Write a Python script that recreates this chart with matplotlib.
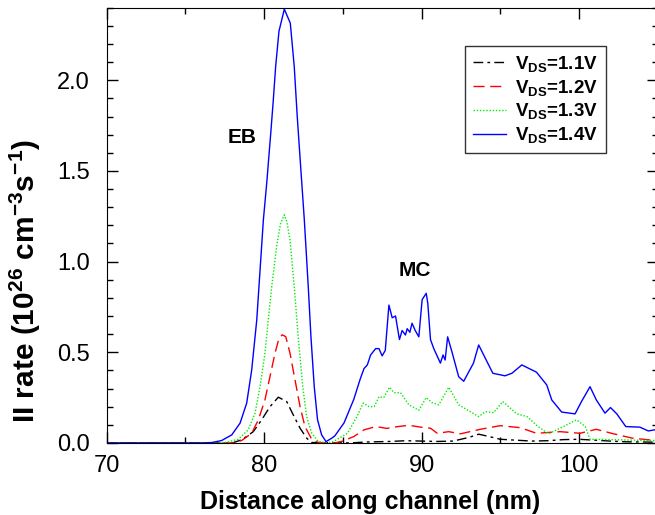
import matplotlib.pyplot as plt
from matplotlib.ticker import MultipleLocator

plt.rcParams["font.family"] = ["Liberation Sans", "DejaVu Sans"]
plt.rcParams["mathtext.fontset"] = "custom"
plt.rcParams["mathtext.rm"] = "Liberation Sans"
plt.rcParams["mathtext.bf"] = "Liberation Sans:bold"
plt.rcParams["mathtext.default"] = "bf"

# II generation rate along the channel for four drain biases
x_11 = [70, 78.0, 78.58, 79.32, 79.85, 80.38, 80.91, 81.44, 81.86, 82.29, 82.71,
        83.03, 85.5, 86.5, 88.0, 89.0, 90.0, 91.0, 92.0, 93.0, 93.63, 94.3, 95.0,
        96.0, 97.0, 98.0, 99.0, 100.0, 101.0, 102.0, 103.0, 105.0]
y_11 = [0, 0, 0.017, 0.062, 0.127, 0.2, 0.252, 0.228, 0.154, 0.081, 0.026,
        0.002, 0.0, 0.005, 0.008, 0.012, 0.01, 0.008, 0.01, 0.03, 0.048, 0.035, 0.02,
        0.015, 0.01, 0.012, 0.018, 0.02, 0.015, 0.01, 0.006, 0.004]

x_12 = [70, 78.0, 78.58, 79.22, 79.64, 80.06, 80.38, 80.7, 80.95, 81.16, 81.38,
        81.65, 81.97, 82.29, 82.6, 83.03, 83.45, 84.5, 85.0, 85.7, 86.35, 87.1,
        87.8, 88.5, 89.2, 89.94, 90.57, 91.0, 91.73, 92.47, 93.73, 95.0, 96.27,
        97.3, 98.8, 100.06, 101.1, 102.2, 103.4, 105.0]
y_12 = [0, 0, 0.013, 0.053, 0.127, 0.237, 0.366, 0.495, 0.577, 0.596, 0.586,
        0.495, 0.347, 0.2, 0.09, 0.02, 0.002, 0.0, 0.01, 0.035, 0.072, 0.09,
        0.08, 0.09, 0.097, 0.087, 0.081, 0.053, 0.062, 0.05, 0.075, 0.095, 0.084,
        0.053, 0.062, 0.053, 0.075, 0.05, 0.026, 0.012]

x_13 = [70, 77.0, 77.52, 78.37, 79.0, 79.43, 79.75, 80.06, 80.27, 80.49, 80.8,
        81.05, 81.29, 81.45, 81.65, 81.92, 82.17, 82.46, 82.71, 83.03, 83.45, 84.0,
        84.4, 85.3, 85.9, 86.3, 86.66, 87.0, 87.3, 87.6, 87.97, 88.25, 88.67, 89.2,
        89.83, 90.3, 90.67, 91.1, 91.73, 92.36, 93.63, 94.05, 94.58, 95.16, 96.05,
        96.7, 97.4, 98.06, 98.8, 99.85, 100.4, 100.7, 102.6, 105.0]
y_13 = [0, 0, 0.002, 0.02, 0.072, 0.164, 0.31, 0.495, 0.678, 0.862, 1.083,
        1.21, 1.258, 1.22, 1.12, 0.862, 0.586, 0.31, 0.145, 0.053, 0.007, 0.0,
        0.007, 0.053, 0.145, 0.22, 0.20, 0.20, 0.255, 0.25, 0.307, 0.277, 0.277, 0.21,
        0.18, 0.25, 0.222, 0.21, 0.307, 0.21, 0.145, 0.172, 0.167, 0.228, 0.16,
        0.145, 0.09, 0.05, 0.081, 0.127, 0.09, 0.02, 0.017, 0.012]

x_14 = [70, 76.0, 76.68, 77.31, 77.95, 78.48, 78.9, 79.22, 79.54, 79.75, 79.96,
        80.17, 80.43, 80.59, 80.74, 80.95, 81.29, 81.67, 81.92, 82.11, 82.33, 82.56,
        82.81, 82.98, 83.19, 83.4, 83.66, 83.94, 84.3, 84.5, 85.08, 85.7, 86.1,
        86.35, 86.56, 86.77, 87.09, 87.3, 87.5, 87.7, 87.93, 88.14, 88.35, 88.6,
        88.77, 88.98, 89.09, 89.26, 89.4, 89.6, 89.83, 90.04, 90.3, 90.4, 90.57,
        90.78, 91.2, 91.37, 91.5, 91.66, 91.94, 92.36, 92.68, 93.3, 93.63, 94.05,
        94.53, 95.3, 95.74, 96.37, 97.3, 97.95, 98.27, 98.9, 99.75, 100.17, 100.7,
        101.1, 101.65, 102.0, 102.4, 102.97, 103.86, 104.4, 105.0]
y_14 = [0, 0, 0.002, 0.013, 0.044, 0.109, 0.219, 0.403, 0.678, 0.954, 1.23,
        1.43, 1.71, 1.89, 2.076, 2.27, 2.392, 2.315, 2.076, 1.80, 1.52, 1.23,
        0.862, 0.586, 0.31, 0.127, 0.044, 0.007, 0.026, 0.039, 0.11, 0.24, 0.35,
        0.41, 0.43, 0.485, 0.52, 0.52, 0.48, 0.51, 0.76, 0.69, 0.70, 0.57,
        0.62, 0.595, 0.63, 0.61, 0.66, 0.62, 0.585, 0.79, 0.825, 0.77, 0.57,
        0.52, 0.44, 0.485, 0.457, 0.585, 0.50, 0.365, 0.34, 0.44, 0.54, 0.467,
        0.384, 0.37, 0.384, 0.43, 0.39, 0.32, 0.237, 0.17, 0.16, 0.23, 0.31,
        0.237, 0.164, 0.195, 0.16, 0.09, 0.087, 0.066, 0.075]

labels = [r"V$_{DS}$=1.1V", r"V$_{DS}$=1.2V", r"V$_{DS}$=1.3V", r"V$_{DS}$=1.4V"]

fig = plt.figure(figsize=(6.55, 5.15), dpi=100)
ax = fig.add_axes([0.1626, 0.14, 0.8416, 0.845])

ax.plot(x_11, y_11, color="black", lw=1.0, ls=(0, (7, 3, 2, 3)), label=labels[0])
ax.plot(x_12, y_12, color="#ff0000", lw=1.0, ls=(0, (8, 4)), label=labels[1])
ax.plot(x_13, y_13, color="#00ee00", lw=1.0, ls=(0, (1, 1.3)), label=labels[2])
ax.plot(x_14, y_14, color="#0000ff", lw=1.0, ls="-", label=labels[3])

ax.set_xlim(70, 105)
ax.set_ylim(0, 2.4)
ax.xaxis.set_major_locator(MultipleLocator(10))
ax.xaxis.set_minor_locator(MultipleLocator(5))
ax.yaxis.set_major_locator(MultipleLocator(0.5))
ax.yaxis.set_minor_locator(MultipleLocator(0.1))
ax.yaxis.set_major_formatter(plt.FormatStrFormatter("%.1f"))
ax.tick_params(which="both", direction="in", top=True, right=True, labelsize=17)
ax.tick_params(which="major", length=8, width=1)
ax.tick_params(which="minor", length=4, width=1)
ax.tick_params(axis="x", pad=9)
ax.tick_params(axis="y", pad=12)

ax.set_xlabel("Distance along channel (nm)", fontsize=18, fontweight="bold")
ax.set_ylabel(r"II rate (10$^{26}$ cm$^{-3}$s$^{-1}$)", fontsize=21.5, fontweight="bold")
ax.xaxis.set_label_coords(0.478, -0.108)
ax.yaxis.set_label_coords(-0.115, 0.372)

ax.text(78.63, 1.684, "EB", fontsize=15, fontweight="bold", ha="center", va="center")
ax.text(89.55, 0.95, "MC", fontsize=15, fontweight="bold", ha="center", va="center")

leg = ax.legend(loc="upper left", bbox_to_anchor=(0.650, 0.912), borderaxespad=0,
                fontsize=13.5, frameon=True, fancybox=False, edgecolor="black",
                handlelength=1.8, handletextpad=0.45, borderpad=0.42,
                labelspacing=0.2)
leg.get_frame().set_linewidth(1.0)
for t in leg.get_texts():
    t.set_fontweight("bold")

fig.savefig("out.png", dpi=100)
